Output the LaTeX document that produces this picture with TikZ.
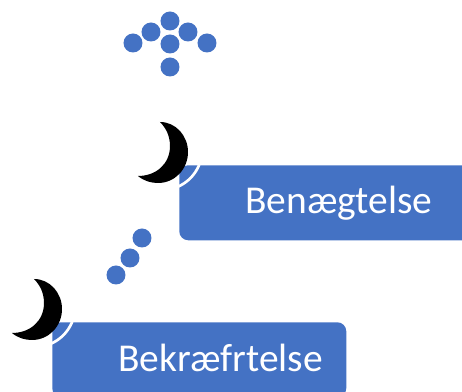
\documentclass[tikz,border=0pt]{standalone}
\usepackage{fontspec}
\setmainfont{Carlito}
\definecolor{boxblue}{HTML}{4472C4}
\tikzset{
	dot/.style={fill=boxblue},
	boxnode/.style={fill=boxblue, rounded corners=6.75pt, inner sep=0pt, minimum height=56.25pt, anchor=north west},
	boxtext/.style={text=white, font=\fontsize{29.6}{35}\selectfont, inner sep=0pt, anchor=base west},
	ring/.style={draw=white, line width=2pt},
	moon/.pic={
		\fill[black] (2,-31) .. controls (18,-31) and (30,-17) .. (30,-1)
			.. controls (30,16) and (17,30) .. (0,30)
			.. controls (-7,30) and (-14,28) .. (-20,23)
			.. controls (-2,23) and (12,11) .. (12,-7)
			.. controls (12,-17) and (8,-25) .. (2,-31) -- cycle;
	}
}
\begin{document}
\begin{tikzpicture}[x=0.75pt, y=-0.75pt]
	\useasboundingbox (0,0) rectangle (462,392);
	\clip (0,0) rectangle (462,392);

	% Dots of the top group
	\foreach \px/\py in {133/43, 151/32, 170/21, 188/32, 207/43, 170/44, 170/67}
		\fill[dot] (\px,\py) circle (9.5);
	% Dots between the two boxes
	\foreach \px/\py in {142/238, 130/258, 116/275}
		\fill[dot] (\px,\py) circle (9.5);

	% Upper box
	\node[boxnode, minimum width=238.5pt] (benaegtelse) at (179,165) {};
	\node[boxtext] (benaegtelsetext) at (245,214) {Benægtelse};
	\draw[ring] (162,150) circle (40);
	\pic at (158,153) {moon};

	% Lower box
	\node[boxnode, minimum width=220.5pt] (bekraeftelse) at (52,322) {};
	\node[boxtext] (bekraeftelsetext) at (118,372) {Bekræfrtelse};
	\draw[ring] (35,307) circle (40);
	\pic at (32,310) {moon};
\end{tikzpicture}
\end{document}
